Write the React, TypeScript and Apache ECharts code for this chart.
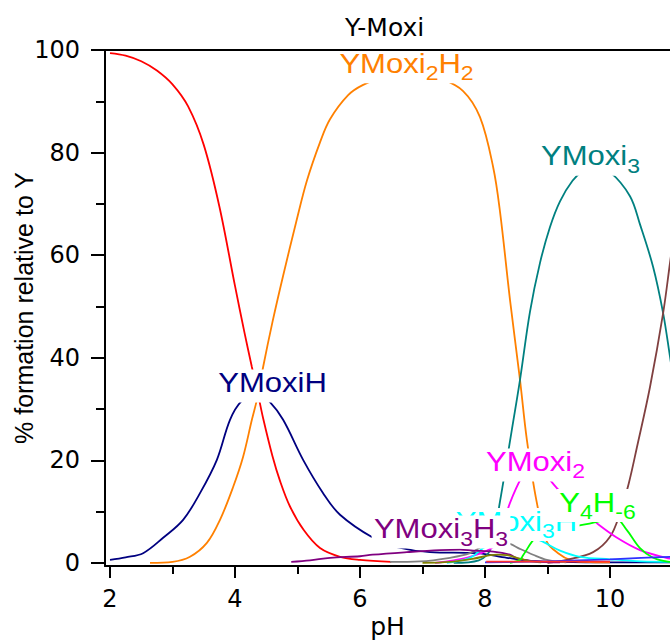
import React, { useEffect, useRef } from "react";
import * as echarts from "echarts";

// ---- axis ticks ----
const X_MAJOR = [2, 4, 6, 8, 10];
const X_MINOR = [3, 5, 7, 9];
const Y_MAJOR = [0, 20, 40, 60, 80, 100];
const Y_MINOR = [10, 30, 50, 70, 90];

// ---- species curves (pH, % formation relative to Y) ----
const freePH = [2.0, 2.25, 2.5, 2.75, 3.0, 3.25, 3.5, 3.75, 4.0, 4.15, 4.27, 4.37, 4.45, 4.6, 4.72, 4.88, 5.1, 5.36, 5.68, 6.0, 6.5];
const freePct = [99.4, 98.9, 97.8, 96.0, 93.3, 89.0, 81.5, 69.5, 54.0, 45.0, 38.2, 32.8, 28.2, 20.8, 16.0, 11.0, 6.4, 2.9, 1.2, 0.6, 0.2];

const mhPH = [2.0, 2.25, 2.53, 2.85, 3.17, 3.44, 3.71, 3.92, 4.1, 4.35, 4.55, 4.77, 5.09, 5.41, 5.68, 6.21, 6.59, 7.12, 7.87, 8.35, 8.72, 9.2, 10.0, 11.0];
const mhPct = [0.6, 1.1, 1.9, 4.9, 8.4, 13.6, 20.1, 27.9, 31.5, 33.3, 31.5, 27.9, 20.1, 13.6, 9.4, 4.9, 3.1, 2.1, 1.9, 1.0, 0.4, 0.2, 0.1, 0.1];

const m2h2PH = [2.64, 3.0, 3.28, 3.55, 3.76, 3.97, 4.13, 4.27, 4.37, 4.45, 4.6, 4.77, 4.98, 5.15, 5.36, 5.52, 5.81, 6.05, 6.37, 6.7, 7.0, 7.28, 7.65, 7.92, 8.13, 8.24, 8.4, 8.56, 8.67, 8.83, 8.99, 9.17, 9.36, 9.6, 10.0];
const m2h2Pct = [0.0, 0.2, 1.2, 3.9, 8.4, 14.8, 20.7, 27.9, 32.8, 38.2, 47.0, 56.0, 66.5, 74.5, 82.0, 86.5, 91.2, 93.2, 94.6, 95.3, 95.2, 94.5, 92.0, 86.9, 77.2, 68.5, 51.3, 35.7, 24.0, 11.7, 4.1, 1.9, 0.6, 0.2, 0.1];

const m3PH = [7.5, 7.9, 8.1, 8.24, 8.35, 8.43, 8.56, 8.72, 8.88, 9.04, 9.2, 9.4, 9.57, 9.75, 10.0, 10.32, 10.48, 10.69, 10.85, 10.96, 11.0];
const m3Pct = [0.0, 0.5, 3.0, 12.0, 20.0, 26.0, 35.7, 49.0, 58.5, 65.5, 70.5, 74.5, 76.4, 77.2, 76.2, 71.5, 66.0, 57.7, 48.7, 40.2, 37.0];

const brownPH = [9.0, 9.31, 9.73, 10.0, 10.16, 10.3, 10.43, 10.64, 10.85, 10.96, 11.0];
const brownPct = [0.0, 0.6, 2.1, 5.1, 9.7, 15.5, 22.5, 34.3, 48.7, 58.5, 62.0];

const m2PH = [7.2, 7.5, 7.76, 8.13, 8.25, 8.4, 8.59, 8.75, 8.9, 9.04, 9.15, 9.4, 9.76, 10.1, 10.48, 10.9, 11.0];
const m2Pct = [0.0, 0.5, 1.2, 3.1, 6.0, 11.7, 16.8, 19.5, 18.5, 16.2, 14.6, 11.5, 8.0, 5.0, 2.5, 1.0, 0.8];

const m3hPH = [7.39, 7.76, 7.97, 8.2, 8.5, 8.75, 8.93, 9.2, 9.52, 10.0, 10.5, 11.0];
const m3hPct = [0.0, 1.0, 2.9, 4.5, 5.5, 5.0, 4.1, 2.4, 1.2, 0.7, 0.3, 0.2];

const grayPH = [6.48, 6.96, 7.44, 7.76, 8.03, 8.2, 8.4, 8.55, 8.77, 8.99, 9.3];
const grayPct = [0.2, 0.3, 1.0, 1.9, 3.7, 4.2, 3.7, 2.8, 1.6, 0.6, 0.1];

const m3h3PH = [4.9, 5.2, 5.52, 6.0, 6.2, 6.75, 7.28, 7.6, 7.81, 8.13, 8.4, 8.51, 8.8, 9.2];
const m3h3Pct = [0.2, 0.5, 1.0, 1.3, 1.6, 2.1, 2.5, 2.6, 2.4, 2.2, 1.6, 0.9, 0.3, 0.1];

const olivePH = [7.0, 7.44, 7.8, 8.19, 8.35, 8.51, 8.7, 8.9];
const olivePct = [0.0, 0.2, 0.8, 1.6, 1.5, 1.0, 0.4, 0.1];

const y4PH = [8.4, 8.56, 8.61, 8.83, 9.2, 9.6, 9.89, 10.08, 10.27, 10.48, 10.69, 10.9, 11.0];
const y4Pct = [0.0, 0.6, 1.5, 5.1, 6.5, 7.5, 8.3, 8.8, 6.4, 2.9, 1.0, 0.3, 0.2];

const bluePH = [8.0, 8.5, 9.0, 9.5, 10.0, 10.5, 11.0];
const bluePct = [0.1, 0.2, 0.3, 0.5, 0.7, 1.0, 1.2];

const red2PH = [8.02, 9.0, 10.0];
const red2Pct = [0.25, 0.25, 0.25];

const SPECIES = [
  { name: "Y", color: "#ff0000", ph: freePH, pct: freePct },
  { name: "YMoxiH", color: "#000080", ph: mhPH, pct: mhPct },
  { name: "YMoxi2H2", color: "#ff8000", ph: m2h2PH, pct: m2h2Pct },
  { name: "YMoxi3", color: "#008080", ph: m3PH, pct: m3Pct },
  { name: "brown species", color: "#804040", ph: brownPH, pct: brownPct },
  { name: "YMoxi2", color: "#ff00ff", ph: m2PH, pct: m2Pct },
  { name: "YMoxi3H", color: "#00ffff", ph: m3hPH, pct: m3hPct },
  { name: "gray species", color: "#808080", ph: grayPH, pct: grayPct },
  { name: "YMoxi3H3", color: "#800080", ph: m3h3PH, pct: m3h3Pct },
  { name: "olive species", color: "#808000", ph: olivePH, pct: olivePct },
  { name: "Y4H-6", color: "#00ff00", ph: y4PH, pct: y4Pct },
  { name: "blue species", color: "#3030ff", ph: bluePH, pct: bluePct },
  { name: "red species", color: "#ff3030", ph: red2PH, pct: red2Pct },
];

// ---- curve labels: rich text and anchor in data coordinates ----
const LABELS = [
  { text: "{m|YMoxi}{s|2}{m|H}{s|2}", color: "#ff8000", at: [6.744, 97.3] },
  { text: "{m|YMoxi}{s|3}", color: "#008080", at: [9.688, 79.3] },
  { text: "{m|YMoxiH}", color: "#000080", at: [4.6, 35.1] },
  { text: "{m|YMoxi}{s|2}", color: "#ff00ff", at: [8.808, 19.7] },
  { text: "{m|YMoxi}{s|3}{m|H}", color: "#00ffff", at: [8.504, 8.1] },
  { text: "{m|YMoxi}{s|3}{m|H}{s|3}", color: "#800080", at: [7.296, 6.6] },
  { text: "{m|Y}{s|4}{m|H}{s|-6}", color: "#00ff00", at: [9.8, 11.8] },
];

const AXIS_FONT = "DejaVu Sans";
const LABEL_FONT = "Liberation Sans";

export default function App() {
  const ref = useRef<HTMLDivElement>(null);

  useEffect(() => {
    if (!ref.current) return;
    const chart = echarts.init(ref.current, undefined, { renderer: "svg" });

    const tickLine = { color: "#000", width: 2 };
    const series = SPECIES.map((s) => ({
      name: s.name,
      type: "line",
      xAxisIndex: 0,
      yAxisIndex: 0,
      data: s.ph.map((p, i) => [p, s.pct[i]]),
      showSymbol: false,
      symbol: "none",
      smooth: 0.35,
      clip: true,
      silent: true,
      lineStyle: { color: s.color, width: 1.8 },
      itemStyle: { color: s.color },
    }));

    chart.setOption({
      animation: false,
      backgroundColor: "#fff",
      title: {
        text: "Y-Moxi",
        left: 345,
        top: 12,
        padding: 0,
        textStyle: { fontFamily: AXIS_FONT, fontSize: 25, fontWeight: "normal", color: "#000", lineHeight: 30 },
      },
      grid: { left: 105, right: 0, top: 50, bottom: 76, containLabel: false, outerBoundsMode: "none" },
      xAxis: [
        {
          type: "value",
          min: 1.92,
          max: 10.96,
          position: "bottom",
          axisLine: { show: true, onZero: false, lineStyle: tickLine },
          axisTick: { show: true, customValues: X_MAJOR, length: 12, lineStyle: tickLine },
          axisLabel: { customValues: X_MAJOR, margin: 21, fontSize: 24, fontFamily: AXIS_FONT, color: "#000" },
          splitLine: { show: false },
          name: "pH",
          nameLocation: "middle",
          nameGap: 46,
          nameMoveOverlap: false,
          nameTextStyle: { fontFamily: AXIS_FONT, fontSize: 25, color: "#000", lineHeight: 28 },
        },
        {
          type: "value",
          min: 1.92,
          max: 10.96,
          position: "bottom",
          axisLine: { show: false, onZero: false },
          axisTick: { show: true, customValues: X_MINOR, length: 8, lineStyle: tickLine },
          axisLabel: { show: false },
          splitLine: { show: false },
        },
        {
          type: "value",
          min: 1.92,
          max: 10.96,
          position: "top",
          z: 150,
          axisLine: { show: true, onZero: false, lineStyle: tickLine },
          axisTick: { show: false },
          axisLabel: { show: false },
          splitLine: { show: false },
        },
      ],
      yAxis: [
        {
          type: "value",
          min: -0.6,
          max: 100,
          position: "left",
          axisLine: { show: true, onZero: false, lineStyle: tickLine },
          axisTick: { show: true, customValues: Y_MAJOR, length: 14, lineStyle: tickLine },
          axisLabel: { customValues: Y_MAJOR, margin: 25, fontSize: 24, fontFamily: AXIS_FONT, color: "#000" },
          splitLine: { show: false },
          name: "% formation relative to Y",
          nameLocation: "middle",
          nameGap: 66,
          nameRotate: 90,
          nameMoveOverlap: false,
          nameTextStyle: { fontFamily: LABEL_FONT, fontSize: 25, color: "#000", lineHeight: 30 },
        },
        {
          type: "value",
          min: -0.6,
          max: 100,
          position: "left",
          axisLine: { show: false, onZero: false },
          axisTick: { show: true, customValues: Y_MINOR, length: 9, lineStyle: tickLine },
          axisLabel: { show: false },
          splitLine: { show: false },
        },
      ],
      series,
    });

    const graphics = LABELS.map((l, i) => {
      const [px, py] = chart.convertToPixel({ xAxisIndex: 0, yAxisIndex: 0 }, l.at) as number[];
      return {
        type: "text",
        x: px,
        y: py + 3,
        scaleX: 1.15,
        z: 100 + i,
        silent: true,
        style: {
          text: l.text,
          fill: l.color,
          align: "center",
          verticalAlign: "middle",
          backgroundColor: "#fff",
          padding: [0, 2, 0, 2],
          rich: {
            m: { fontSize: 27, fontFamily: LABEL_FONT, lineHeight: 33, verticalAlign: "top", fill: l.color },
            s: { fontSize: 20, fontFamily: LABEL_FONT, lineHeight: 5, verticalAlign: "bottom", fill: l.color },
          },
        },
      };
    });
    chart.setOption({ graphic: graphics });

    return () => chart.dispose();
  }, []);

  return <div ref={ref} style={{ position: "fixed", left: 0, top: 0, width: 670, height: 642 }} />;
}
